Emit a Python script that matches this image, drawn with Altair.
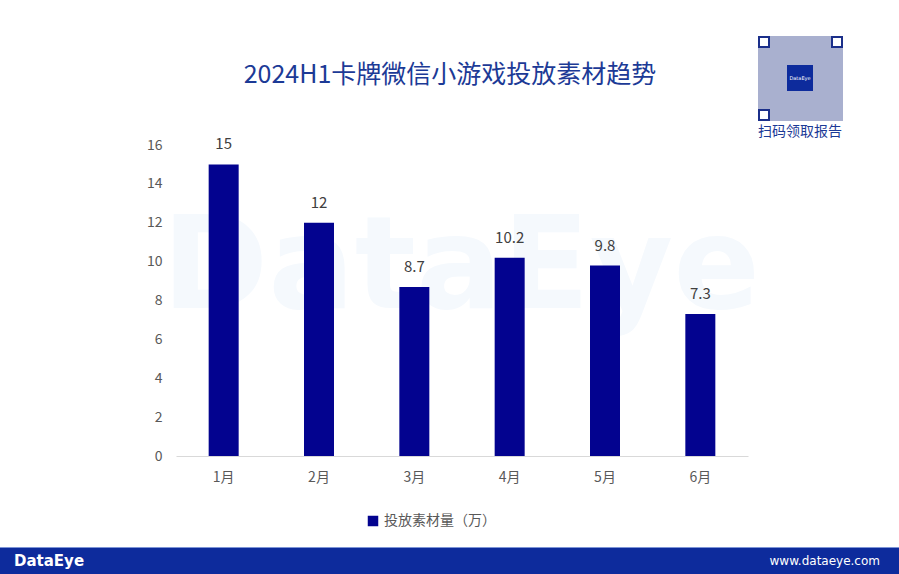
import altair as alt
import pandas as pd

months = ["1月", "2月", "3月", "4月", "5月", "6月"]
values = [15, 12, 8.7, 10.2, 9.8, 7.3]
labels = ["15", "12", "8.7", "10.2", "9.8", "7.3"]
series = "投放素材量（万）"

df = pd.DataFrame({"month": months, "value": values, "label": labels, "series": [series] * 6})

FONT = "Noto Sans CJK SC"
W, H = 572, 311
L, T = 176, 145

x_enc = alt.X("month:N", sort=months, title=None,
              scale=alt.Scale(paddingInner=0.685, paddingOuter=0.3425),
              axis=alt.Axis(labelAngle=0, labelFontSize=14, labelColor="#595959", labelFont=FONT,
                            domainColor="#d9d9d9", domainWidth=1.2, ticks=False, labelPadding=14))
y_enc = alt.Y("value:Q", title=None,
              scale=alt.Scale(domain=[0, 16], nice=False),
              axis=alt.Axis(values=list(range(0, 17, 2)), labelFontSize=14, labelColor="#595959",
                            labelFont=FONT, domain=False, ticks=False, grid=False, labelPadding=14,
                            labelOverlap=False, labelFlush=False))

base = alt.Chart(df)

watermark = alt.Chart(pd.DataFrame({"t": ["DataEye"]})).mark_text(
    font="DejaVu Sans", fontSize=128, fontWeight="bold", color="#f5f9fd", align="center", baseline="middle"
).encode(text="t:N", x=alt.value(285), y=alt.value(125))

bars = base.mark_bar(size=30).encode(
    x=x_enc, y=y_enc,
    color=alt.Color("series:N", title=None,
                    scale=alt.Scale(range=["#03038f"]),
                    legend=alt.Legend(orient="none", legendX=190, legendY=369, symbolType="square",
                                      symbolSize=110, symbolStrokeWidth=0, labelFontSize=14,
                                      labelColor="#595959", labelFont=FONT)),
)

texts = base.mark_text(dy=-20, fontSize=15, color="#404040", font=FONT).encode(
    x=x_enc, y=y_enc, text="label:N")

title = alt.Chart(pd.DataFrame({"t": ["2024H1卡牌微信小游戏投放素材趋势"]})).mark_text(
    font=FONT, fontSize=25, color="#1c3a96", align="center", baseline="middle"
).encode(text="t:N", x=alt.value(450 - L), y=alt.value(75 - T))

footer = alt.Chart(pd.DataFrame({"a": [0]})).mark_rect(color="#0d2b9c").encode(
    x=alt.value(-L), x2=alt.value(899 - L), y=alt.value(548 - T), y2=alt.value(574 - T))
footer_line = alt.Chart(pd.DataFrame({"a": [0]})).mark_rule(color="#7d94d6", strokeWidth=1).encode(
    x=alt.value(-L), x2=alt.value(899 - L), y=alt.value(547.5 - T))
footer_logo = alt.Chart(pd.DataFrame({"t": ["DataEye"]})).mark_text(
    font="DejaVu Sans", fontSize=15, fontWeight="bold", color="white", align="left", baseline="middle"
).encode(text="t:N", x=alt.value(14 - L), y=alt.value(561 - T))
footer_url = alt.Chart(pd.DataFrame({"t": ["www.dataeye.com"]})).mark_text(
    font="DejaVu Sans", fontSize=12, color="white", align="right", baseline="middle"
).encode(text="t:N", x=alt.value(880 - L), y=alt.value(561 - T))

# QR code placeholder
qr_bg = alt.Chart(pd.DataFrame({"a": [0]})).mark_rect(color="#a9b0cf").encode(
    x=alt.value(758 - L), x2=alt.value(843 - L), y=alt.value(36 - T), y2=alt.value(121 - T))
corners_x = [758, 831, 758]
corners_y = [36, 36, 109]
qr_corners = alt.layer(*[
    alt.Chart(pd.DataFrame({"a": [0]})).mark_rect(color="white", stroke="#1b2f8a", strokeWidth=2).encode(
        x=alt.value(cx - L + 1), x2=alt.value(cx - L + 11), y=alt.value(cy - T + 1), y2=alt.value(cy - T + 11))
    for cx, cy in zip(corners_x, corners_y)
])
qr_center = alt.Chart(pd.DataFrame({"a": [0]})).mark_rect(color="#0d2b9c").encode(
    x=alt.value(787 - L), x2=alt.value(813 - L), y=alt.value(65 - T), y2=alt.value(91 - T))
qr_center_t = alt.Chart(pd.DataFrame({"t": ["DataEye"]})).mark_text(
    font="DejaVu Sans", fontSize=5, color="white", align="center", baseline="middle"
).encode(text="t:N", x=alt.value(800 - L), y=alt.value(78 - T))
qr_caption = alt.Chart(pd.DataFrame({"t": ["扫码领取报告"]})).mark_text(
    font=FONT, fontSize=14, color="#1c3a96", align="center", baseline="middle"
).encode(text="t:N", x=alt.value(800 - L), y=alt.value(132 - T))

chart = alt.layer(
    watermark, bars, texts, title, footer, footer_line, footer_logo, footer_url,
    qr_bg, qr_corners, qr_center, qr_center_t, qr_caption
).properties(
    width=W, height=H,
    autosize=alt.AutoSizeParams(type="none"),
    padding={"left": L, "top": T, "right": 899 - L - W, "bottom": 574 - T - H},
    background="white",
).configure_view(stroke=None)

chart.save("out.html", embed_options={"renderer": "svg", "actions": False})
